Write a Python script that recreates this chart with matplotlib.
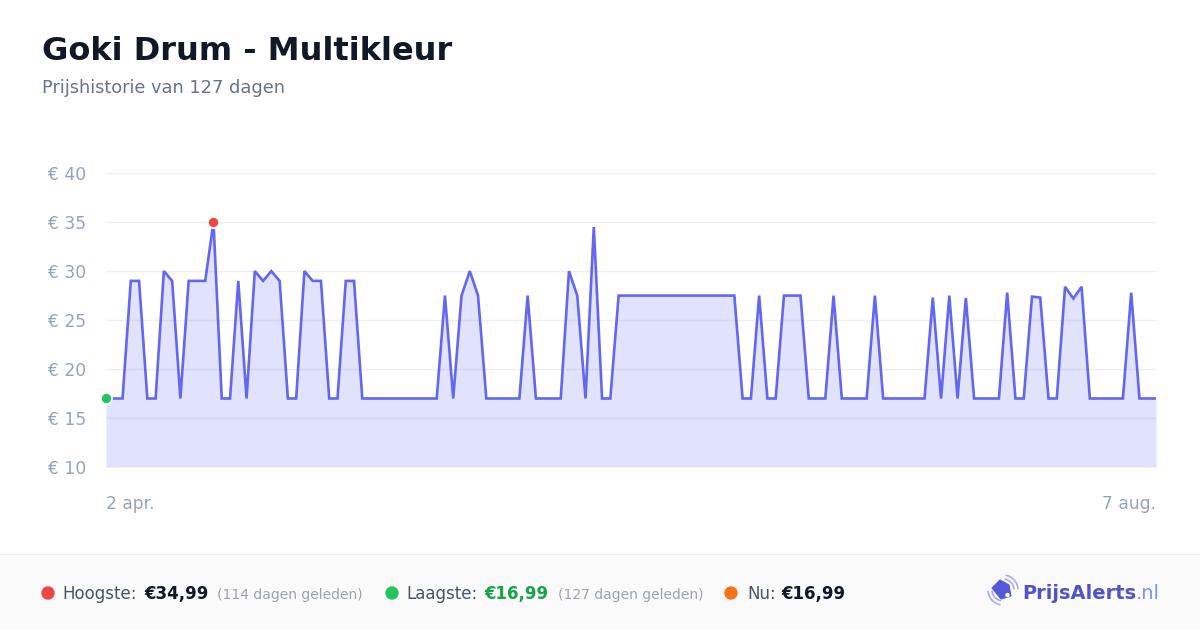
import matplotlib
matplotlib.use("Agg")
import matplotlib.pyplot as plt
from matplotlib.patches import Ellipse, Rectangle, Polygon, Arc
import numpy as np

plt.rcParams['font.family'] = ['DejaVu Sans']

title = "Goki Drum - Multikleur"
subtitle = "Prijshistorie van 127 dagen"

prices = [
    16.99, 16.99, 16.99, 28.99, 28.99, 16.99, 16.99, 29.99, 28.99, 16.99,
    28.99, 28.99, 28.99, 34.99, 16.99, 16.99, 28.99, 16.99, 29.99, 28.99,
    29.99, 28.99, 16.99, 16.99, 29.99, 28.99, 28.99, 16.99, 16.99, 28.99,
    28.99, 16.99, 16.99, 16.99, 16.99, 16.99, 16.99, 16.99, 16.99, 16.99,
    16.99, 27.49, 16.99, 27.49, 29.99, 27.49, 16.99, 16.99, 16.99, 16.99,
    16.99, 27.49, 16.99, 16.99, 16.99, 16.99, 29.99, 27.49, 16.99, 34.49,
    16.99, 16.99, 27.49, 27.49, 27.49, 27.49, 27.49, 27.49, 27.49, 27.49,
    27.49, 27.49, 27.49, 27.49, 27.49, 27.49, 27.49, 16.99, 16.99, 27.49,
    16.99, 16.99, 27.49, 27.49, 27.49, 16.99, 16.99, 16.99, 27.49, 16.99,
    16.99, 16.99, 16.99, 27.49, 16.99, 16.99, 16.99, 16.99, 16.99, 16.99,
    27.29, 16.99, 27.49, 16.99, 27.25, 16.99, 16.99, 16.99, 16.99, 27.79,
    16.99, 16.99, 27.39, 27.29, 16.99, 16.99, 28.39, 27.19, 28.39, 16.99,
    16.99, 16.99, 16.99, 16.99, 27.79, 16.99, 16.99, 16.99,
]
y_ticks = [10, 15, 20, 25, 30, 35, 40]
y_tick_labels = ["€ 10", "€ 15", "€ 20", "€ 25", "€ 30", "€ 35", "€ 40"]
x_tick_labels = ["2 apr.", "7 aug."]

high_label = "Hoogste:"
high_value = "€34,99"
high_note = "(114 dagen geleden)"
low_label = "Laagste:"
low_value = "€16,99"
low_note = "(127 dagen geleden)"
now_label = "Nu:"
now_value = "€16,99"

W, H = 1200, 630
fig = plt.figure(figsize=(W / 100, H / 100), dpi=100)
fig.patch.set_facecolor("white")


def fx(x):
    return x / W


def fy(y):
    return 1 - y / H


# axes
ax = fig.add_axes([fx(106), fy(467), fx(1156) - fx(106), fy(173) - fy(467)])
x = np.arange(len(prices))
ax.set_xlim(0, len(prices) - 1)
ax.set_ylim(10, 40)
for s in ax.spines.values():
    s.set_visible(False)
ax.set_facecolor("none")

for t in y_ticks[1:]:
    ax.axhline(t, color="#efeff1", lw=1.0, zorder=1)
ax.axhline(10, color="#e3e4e8", lw=1.4, zorder=3)

ax.fill_between(x, prices, 10, color="#6366f1", alpha=0.19, lw=0, zorder=2)
ax.plot(x, prices, color="#6366f1", lw=1.9, zorder=4, solid_joinstyle="miter")

imax = int(np.argmax(prices))
imin = int(np.argmin(prices))
ax.plot([imax], [prices[imax]], "o", color="#ef4444", ms=8, mec="white",
        mew=1.2, zorder=6, clip_on=False)
ax.plot([imin], [prices[imin]], "o", color="#22c55e", ms=8, mec="white",
        mew=1.2, zorder=6, clip_on=False)

ax.set_yticks(y_ticks)
ax.set_yticklabels(y_tick_labels)
ax.set_xticks([0, len(prices) - 1])
ax.set_xticklabels(x_tick_labels)
ax.tick_params(axis="y", length=0, pad=14, labelsize=12.3, labelcolor="#94a3b8")
ax.tick_params(axis="x", length=0, pad=20, labelsize=12.3, labelcolor="#94a3b8")
xl = ax.get_xticklabels()
xl[0].set_horizontalalignment("left")
xl[-1].set_horizontalalignment("right")

# title
fig.text(fx(42), fy(60), title, fontsize=23, fontweight="bold",
         color="#111827", va="baseline", ha="left")
fig.text(fx(42), fy(93), subtitle, fontsize=12.8, color="#64748b",
         va="baseline", ha="left")

# footer
fig.add_artist(Rectangle((0, 0), 1, fy(554), transform=fig.transFigure,
                         facecolor="#fafafa", edgecolor="none", zorder=0))
fig.add_artist(plt.Line2D([0, 1], [fy(554), fy(554)], transform=fig.transFigure,
                          color="#ececec", lw=1))

base = fy(599)


def dot(xc, color):
    fig.add_artist(Ellipse((fx(xc), fy(593)), 12 / W, 12 / H,
                           transform=fig.transFigure, color=color, zorder=5))


dot(48, "#ef4444")
fig.text(fx(62), base, high_label, fontsize=12, color="#475569", va="baseline")
fig.text(fx(144), base, high_value, fontsize=12, color="#111827",
         fontweight="bold", va="baseline")
fig.text(fx(217), base, high_note, fontsize=10, color="#9ca3af", va="baseline")

dot(392, "#22c55e")
fig.text(fx(406), base, low_label, fontsize=12, color="#475569", va="baseline")
fig.text(fx(484), base, low_value, fontsize=12, color="#16a34a",
         fontweight="bold", va="baseline")
fig.text(fx(558), base, low_note, fontsize=10, color="#9ca3af", va="baseline")

dot(731, "#f97316")
fig.text(fx(747), base, now_label, fontsize=12, color="#475569", va="baseline")
fig.text(fx(781), base, now_value, fontsize=12, color="#111827",
         fontweight="bold", va="baseline")

# logo
tag = Polygon([(fx(992), fy(588)), (fx(1000), fy(580)), (fx(1009), fy(585)),
               (fx(1011), fy(596)), (fx(1001), fy(599))],
              closed=True, transform=fig.transFigure, facecolor="#5558d9",
              edgecolor="#5558d9", lw=0.8, joinstyle="round", zorder=5)
fig.add_artist(tag)
fig.add_artist(Ellipse((fx(1007.5), fy(595)), 3 / W, 3 / H,
                       transform=fig.transFigure, color="white", zorder=6))
for r in (11, 15):
    for th1, th2 in ((5, 85), (185, 265)):
        fig.add_artist(Arc((fx(1003), fy(590)), 2 * r / W, 2 * r / H,
                           theta1=th1, theta2=th2, transform=fig.transFigure,
                           color="#a5abf0", lw=1.2, zorder=5))
t1 = fig.text(fx(1022), base, "PrijsAlerts", fontsize=14, fontweight="bold",
              color="#4f54c6", va="baseline")
fig.canvas.draw()
bb = t1.get_window_extent()
fig.text(bb.x1 / W, base, ".nl", fontsize=14, color="#818cf8", va="baseline")

fig.savefig("out.png", dpi=100, facecolor="white")
